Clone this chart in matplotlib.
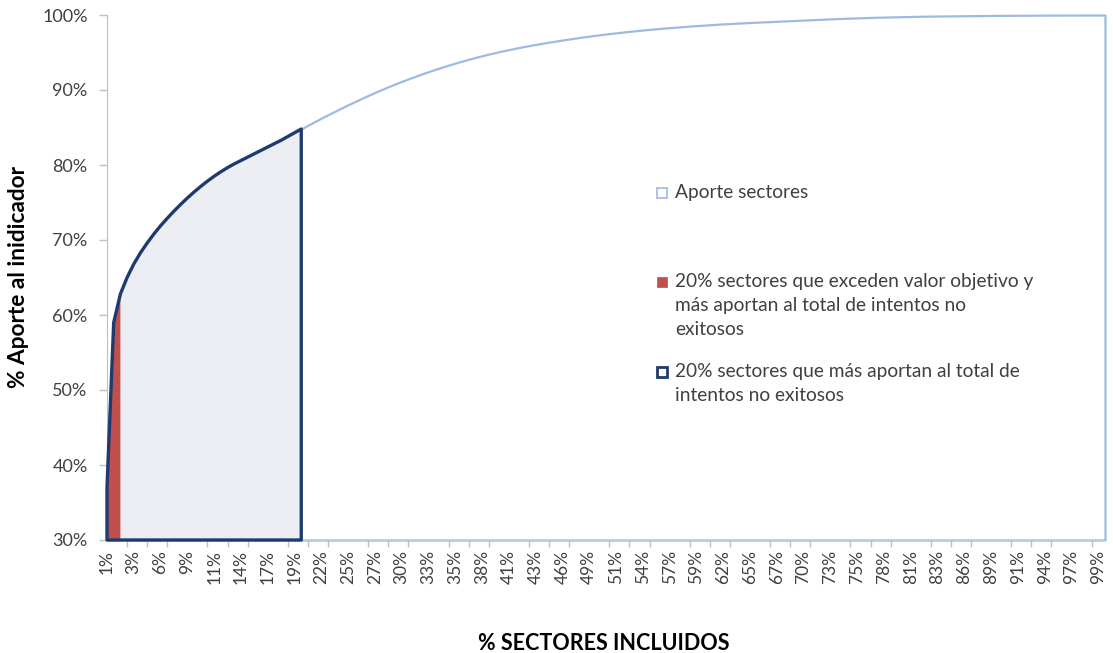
import matplotlib
matplotlib.use("Agg")
import matplotlib.pyplot as plt
from matplotlib.patches import Rectangle
import numpy as np

plt.rcParams['font.family'] = ['Lato', 'DejaVu Sans']

# 150 sectors, cumulative contribution (%)
n_sectors = 150
aporte = [
    37.0, 59.0, 62.8, 65.0, 66.8, 68.3, 69.6, 70.8, 71.9, 72.9,
    73.85, 74.75, 75.6, 76.4, 77.15, 77.85, 78.5, 79.1, 79.65, 80.15,
    80.6, 81.05, 81.5, 81.95, 82.4, 82.85, 83.3, 83.8, 84.3, 84.8,
    85.3, 85.78, 86.25, 86.7, 87.15, 87.6, 88.03, 88.45, 88.87, 89.28,
    89.68, 90.06, 90.44, 90.8, 91.15, 91.49, 91.82, 92.14, 92.45, 92.75,
    93.04, 93.32, 93.59, 93.85, 94.1, 94.34, 94.57, 94.79, 95.0, 95.2,
    95.39, 95.57, 95.75, 95.92, 96.08, 96.23, 96.38, 96.52, 96.66, 96.8,
    96.93, 97.06, 97.18, 97.3, 97.41, 97.52, 97.62, 97.72, 97.82, 97.91,
    98.0, 98.08, 98.16, 98.24, 98.31, 98.38, 98.45, 98.52, 98.58, 98.64,
    98.7, 98.76, 98.81, 98.86, 98.91, 98.96, 99.0, 99.04, 99.08, 99.12,
    99.16, 99.2, 99.24, 99.28, 99.32, 99.36, 99.4, 99.44, 99.48, 99.52,
    99.55, 99.58, 99.61, 99.64, 99.67, 99.7, 99.72, 99.74, 99.76, 99.78,
    99.8, 99.82, 99.84, 99.85, 99.86, 99.87, 99.88, 99.89, 99.9, 99.91,
    99.92, 99.93, 99.94, 99.95, 99.95, 99.96, 99.96, 99.97, 99.97, 99.98,
    99.98, 99.98, 99.99, 99.99, 99.99, 99.99, 100.0, 100.0, 100.0, 100.0,
]
n_top20 = 30      # 20% of sectors
n_exceden = 3     # sectors exceeding target value
y_ticks = [30, 40, 50, 60, 70, 80, 90, 100]
label_every = 4
tick_every = 3

legend_labels = [
    "Aporte sectores",
    "20% sectores que exceden valor objetivo y\nmás aportan al total de intentos no\nexitosos",
    "20% sectores que más aportan al total de\nintentos no exitosos",
]

cats = np.arange(1, n_sectors + 1)
vals = np.array(aporte)
cat_labels = [f"{round(c / n_sectors * 100):d}%" for c in cats]

W, H = 1113, 653
fig = plt.figure(figsize=(W / 100, H / 100), dpi=100)
ax = fig.add_axes([107 / W, 1 - 540 / H, (1105 - 107) / W, (540 - 15) / H])

light = '#9dbbe0'
navy = '#1f3a6e'
red = '#c0504d'
fillc = '#eceef4'

ymin = 30
# total area (white fill, light blue border)
ax.fill_between(cats, ymin, vals, facecolor='white', edgecolor=light,
                linewidth=1.6, zorder=2, clip_on=False)
# top 20% area
ax.fill_between(cats[:n_top20], ymin, vals[:n_top20], facecolor=fillc,
                edgecolor='none', zorder=3, clip_on=False)
# exceeding sectors
ax.fill_between(cats[:n_exceden], ymin, vals[:n_exceden], facecolor=red,
                edgecolor='none', zorder=4, clip_on=False)
ax.fill_between(cats[:n_top20], ymin, vals[:n_top20], facecolor='none',
                edgecolor=navy, linewidth=2.4, zorder=5, clip_on=False,
                joinstyle='round')

ax.set_xlim(1, n_sectors)
ax.set_ylim(ymin, 100)

ax.set_yticks(y_ticks)
ax.set_yticklabels([f"{v}%" for v in y_ticks])
ax.set_xticks(cats[::label_every])
ax.set_xticklabels(cat_labels[::label_every], rotation=90)
ax.set_xticks(cats[::tick_every], minor=True)

tick_col = '#404040'
ax.tick_params(axis='y', length=6, width=1, color='#bfbfbf', pad=8,
               labelsize=13, labelcolor=tick_col)
ax.tick_params(axis='x', which='major', length=0, pad=7,
               labelsize=12.5, labelcolor=tick_col)
ax.tick_params(axis='x', which='minor', length=5, width=1, color='#bfbfbf')

for s in ['top', 'right']:
    ax.spines[s].set_visible(False)
ax.spines['left'].set_color('#bfbfbf')
ax.spines['bottom'].set_color('#b8c8de')
ax.spines['left'].set_zorder(1)
ax.patch.set_visible(False)

fig.text(604 / W, 1 - 643 / H, "% SECTORES INCLUIDOS", ha='center', va='center',
         fontsize=15.5, fontweight='bold', color='black')
fig.text(19 / W, 1 - 277 / H, "% Aporte al inidicador", ha='center', va='center',
         rotation=90, fontsize=16.3, fontweight='bold', color='black')

# legend
def fx(px):
    return px / W

def fy(py):
    return 1 - py / H

box_specs = [
    (192.5, 'white', light),
    (281.5, red, red),
    (371.5, 'white', navy),
]
line_h = 24.0
for (cy, fc, ec), lab in zip(box_specs, legend_labels):
    lw = 1.2 if ec == light else (2.0 if ec == navy else 0.5)
    r = Rectangle((fx(657), fy(cy + 5)), 10 / W, 10 / H, transform=fig.transFigure,
                  facecolor=fc, edgecolor=ec, linewidth=lw)
    fig.add_artist(r)
    for k, line in enumerate(lab.split("\n")):
        fig.text(fx(675), fy(cy + k * line_h), line, ha='left', va='center',
                 fontsize=13.8, color=tick_col)

fig.savefig("out.png", dpi=100)
